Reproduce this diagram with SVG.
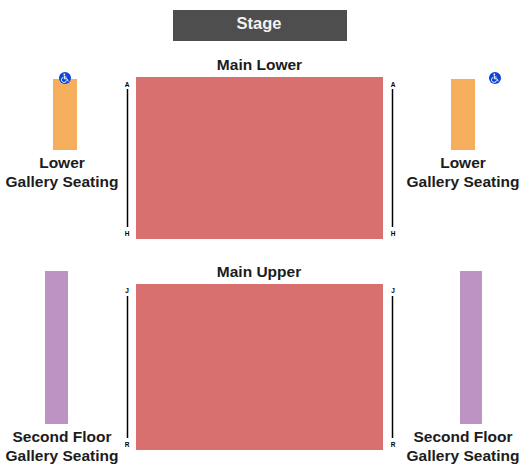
<svg xmlns="http://www.w3.org/2000/svg" width="525" height="474" viewBox="0 0 525 474">
<style>
text{font-family:"Liberation Sans",Arial,sans-serif;font-weight:700;text-anchor:middle;fill:#1c1c1c}
.lbl{font-size:15.500px}
.row{font-size:6.500px;fill:#000}
.main{fill:#d7706e}
.lower{fill:#f4ae5c}
.second{fill:#bd93c4}
.aisle{stroke:#000;stroke-width:1.5;fill:none}
.badge{fill:#0a45d8}
.glyph{fill:none;stroke:#fff;stroke-width:1}
</style>
<defs>
<g id="wc">
<circle r="6" class="badge"/>
<circle cx="-0.7" cy="-3.6" r="0.9" fill="#fff"/>
<path class="glyph" d="M-0.7-2.5V0.8H2L3.2 3.4M-0.7-1H1.6"/>
<path class="glyph" d="M-1.9-0.6A2.6 2.6 0 1 0 1.6 2.4"/>
</g>
</defs>
<g id="stage"><rect x="173" y="10" width="174" height="31" fill="#4e4e4e"/><text x="259" y="29" font-size="16.500" style="fill:#f2f2f2">Stage</text></g>
<g id="main-lower"><rect class="main" x="136" y="77" width="247" height="162"/><text class="lbl" x="259.500" y="70">Main Lower</text></g>
<g id="main-upper"><rect class="main" x="136" y="284" width="247" height="166"/><text class="lbl" x="259" y="277">Main Upper</text></g>
<g id="lower-gallery-left"><rect class="lower" x="53" y="79" width="24" height="71"/><text class="lbl" x="62" y="168">Lower</text><text class="lbl" x="62" y="187">Gallery Seating</text><use href="#wc" x="65" y="78"/></g>
<g id="lower-gallery-right"><rect class="lower" x="451" y="79" width="24" height="71"/><text class="lbl" x="463" y="168">Lower</text><text class="lbl" x="463" y="187">Gallery Seating</text><use href="#wc" x="495" y="78"/></g>
<g id="second-floor-left"><rect class="second" x="45" y="271" width="23" height="153"/><text class="lbl" x="62" y="442">Second Floor</text><text class="lbl" x="62" y="461">Gallery Seating</text></g>
<g id="second-floor-right"><rect class="second" x="460" y="271" width="22" height="153"/><text class="lbl" x="463" y="442">Second Floor</text><text class="lbl" x="463" y="461">Gallery Seating</text></g>
<g id="connectors">
<line class="aisle" x1="127.500" y1="89" x2="127.500" y2="227"/>
<line class="aisle" x1="392.500" y1="89" x2="392.500" y2="227"/>
<line class="aisle" x1="127.500" y1="296" x2="127.500" y2="438"/>
<line class="aisle" x1="392.500" y1="296" x2="392.500" y2="438"/>
</g>
<g id="row-labels">
<text class="row" x="127" y="87">A</text><text class="row" x="127" y="236">H</text>
<text class="row" x="393" y="87">A</text><text class="row" x="393" y="236">H</text>
<text class="row" x="127" y="293">J</text><text class="row" x="127" y="447">R</text>
<text class="row" x="393" y="293">J</text><text class="row" x="393" y="447">R</text>
</g>
</svg>
